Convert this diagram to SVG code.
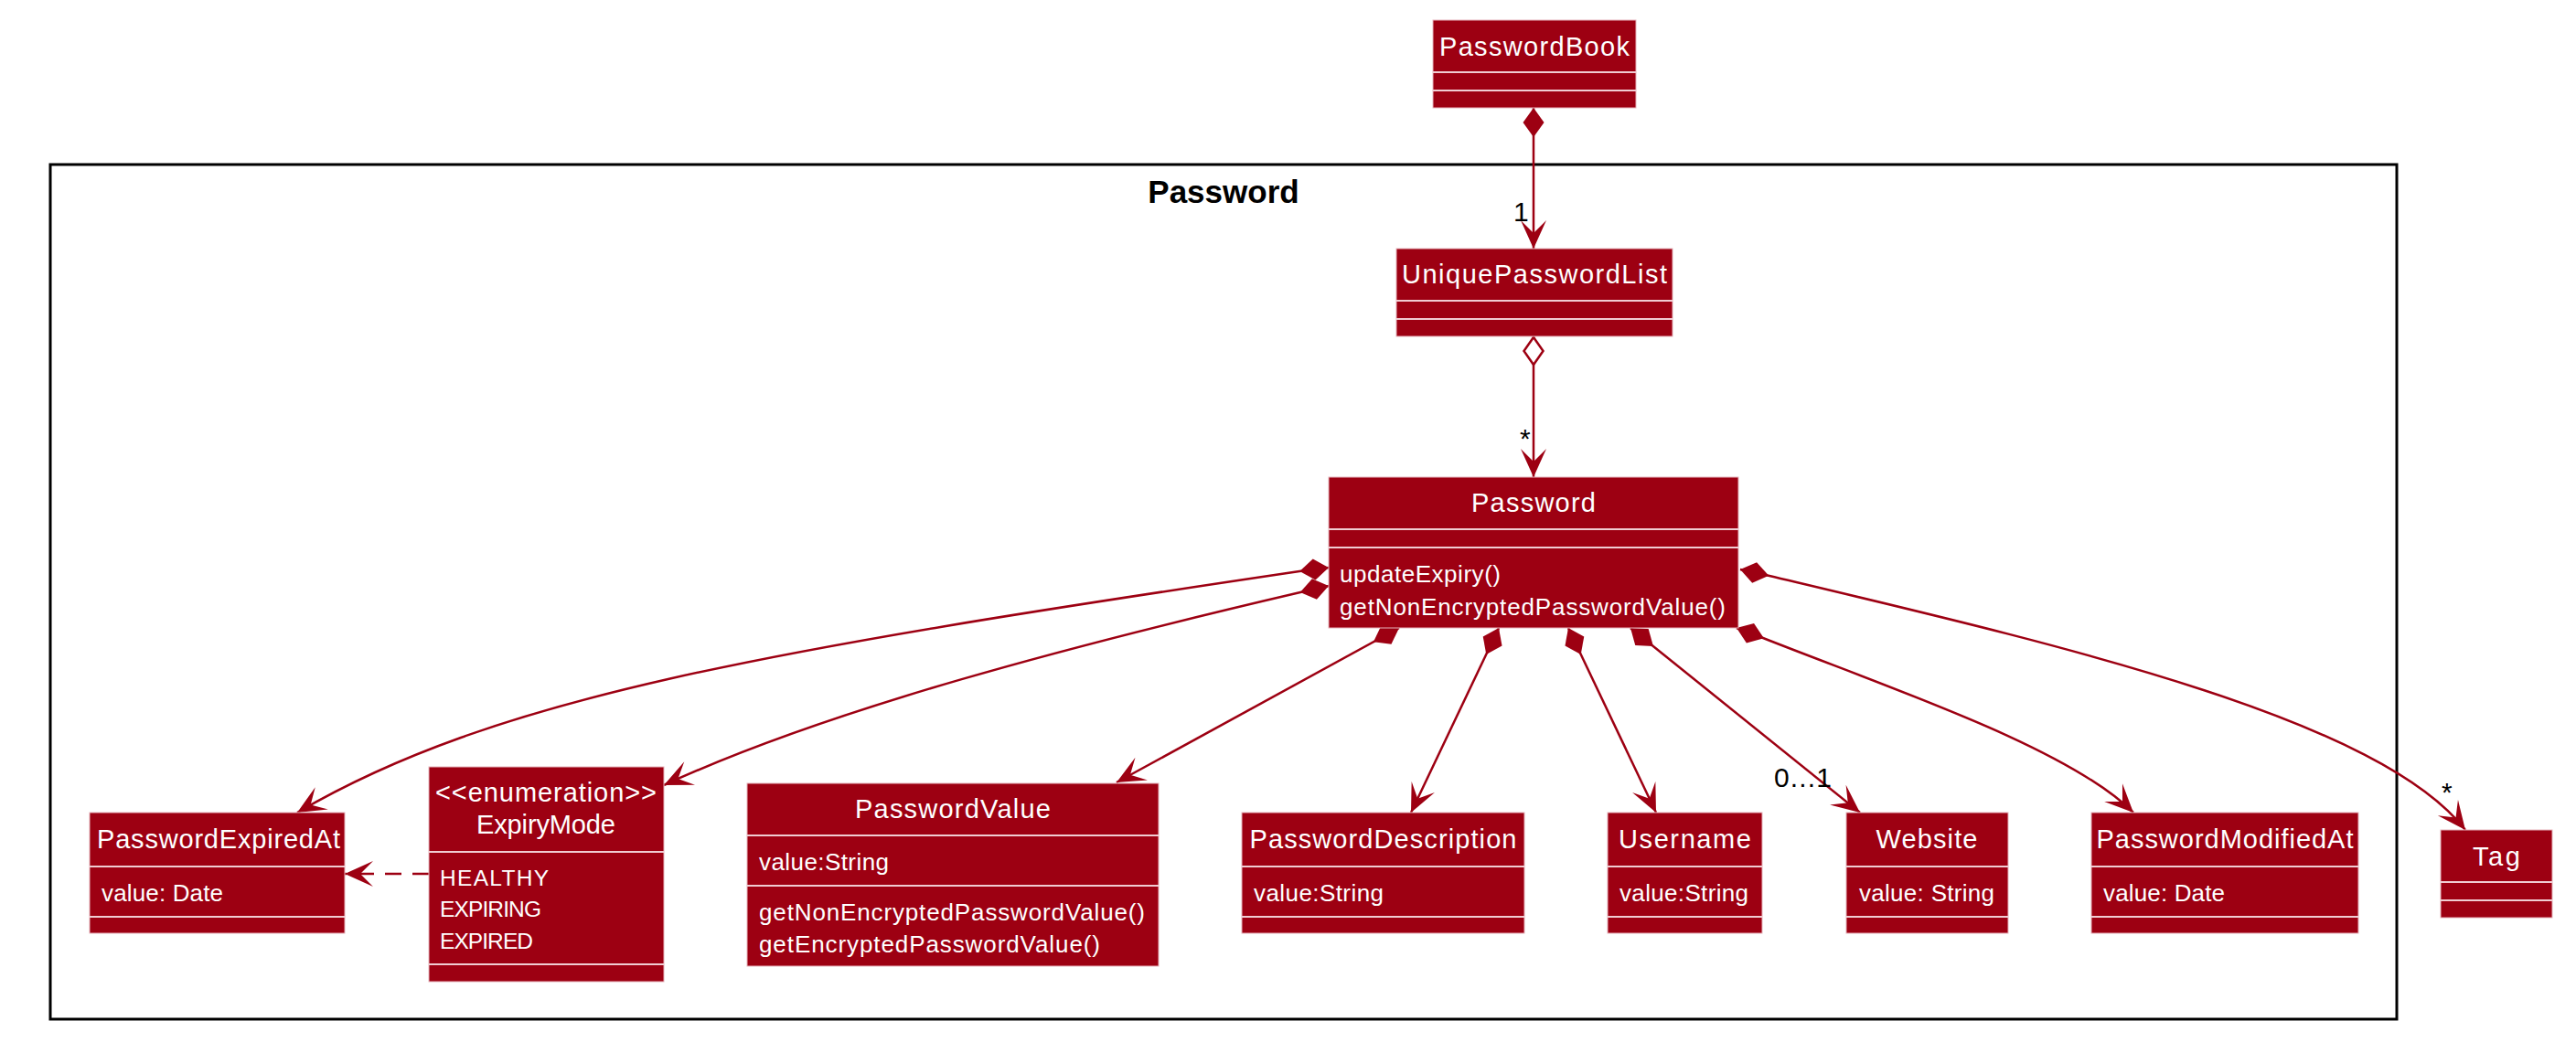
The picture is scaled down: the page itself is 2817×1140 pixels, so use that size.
<svg xmlns="http://www.w3.org/2000/svg" width="2817" height="1140" viewBox="0 0 2817 1140">
<style>
.box{fill:#9D0012;stroke:#E6B3BB;stroke-width:1}
.sep{stroke:#F0CCD2;stroke-width:2}
.nm{font-family:"Liberation Sans",Arial,sans-serif;font-size:29px;fill:#fff;text-anchor:middle}
.mb{font-family:"Liberation Sans",Arial,sans-serif;font-size:26px;fill:#fff}
.en{font-family:"Liberation Sans",Arial,sans-serif;font-size:24.5px;fill:#fff}
.lbl{font-family:"Liberation Sans",Arial,sans-serif;font-size:30px;fill:#000}
.title{font-family:"Liberation Sans",Arial,sans-serif;font-size:35px;font-weight:bold;fill:#000;text-anchor:middle}
.edge{fill:none;stroke:#9D0012;stroke-width:2.5}
</style>
<defs>
<marker id="arr" markerUnits="userSpaceOnUse" orient="auto" refX="0" refY="0" markerWidth="40" markerHeight="40" overflow="visible">
<path d="M0,0 L-31,-14 L-17,0 L-31,14 Z" fill="#9D0012" stroke="none"/>
</marker>
<marker id="dia" markerUnits="userSpaceOnUse" orient="auto" refX="0" refY="0" markerWidth="40" markerHeight="40" overflow="visible">
<path d="M0,0 L16,-11.5 L32,0 L16,11.5 Z" fill="#9D0012" stroke="none"/>
</marker>
<marker id="odia" markerUnits="userSpaceOnUse" orient="auto" refX="0" refY="0" markerWidth="40" markerHeight="40" overflow="visible">
<path d="M1,0 L16,-10.5 L31,0 L16,10.5 Z" fill="#fff" stroke="#9D0012" stroke-width="2.5"/>
</marker>
</defs>
<rect width="2817" height="1140" fill="#fff"/>

<g id="pkg-Password">
<rect x="55" y="180" width="2566" height="935" fill="none" stroke="#000" stroke-width="3"/>
<text class="title" x="1338" y="222">Password</text>
</g>

<g id="connectors">
<path class="edge" d="M1677,118 L1677,272" marker-start="url(#dia)" marker-end="url(#arr)"/>
<path class="edge" d="M1677,368 L1677,522" marker-start="url(#odia)" marker-end="url(#arr)"/>
<path class="edge" d="M1453,621 L1421,625 C828,713 541,763 325,889" marker-start="url(#dia)" marker-end="url(#arr)"/>
<path class="edge" d="M1453,641 L1422,648 C1178,705 908,775 726,859" marker-start="url(#dia)" marker-end="url(#arr)"/>
<path class="edge" d="M1530,687 L1221,856" marker-start="url(#dia)" marker-end="url(#arr)"/>
<path class="edge" d="M1639,687 L1543,889" marker-start="url(#dia)" marker-end="url(#arr)"/>
<path class="edge" d="M1715,687 L1811,889" marker-start="url(#dia)" marker-end="url(#arr)"/>
<path class="edge" d="M1783,687 L2034,889" marker-start="url(#dia)" marker-end="url(#arr)"/>
<path class="edge" d="M1899,687 L1928,698 C2067,753 2262,818 2333,889" marker-start="url(#dia)" marker-end="url(#arr)"/>
<path class="edge" d="M1903,623 L1935,630 C2250,705 2600,785 2696,908" marker-start="url(#dia)" marker-end="url(#arr)"/>
<path class="edge" d="M469,956 L377,956" stroke-dasharray="18,12" marker-end="url(#arr)"/>
<text class="lbl" x="1655" y="242">1</text>
<text class="lbl" x="1662" y="490">*</text>
<text class="lbl" x="1940" y="861" textLength="63">0...1</text>
<text class="lbl" x="2670" y="877">*</text>
</g>

<g id="PasswordBook">
<rect class="box" x="1567" y="22" width="222" height="96"/>
<line class="sep" x1="1567" y1="79" x2="1789" y2="79"/>
<line class="sep" x1="1567" y1="99" x2="1789" y2="99"/>
<text class="nm" x="1678" y="61" textLength="208">PasswordBook</text>
</g>

<g id="UniquePasswordList">
<rect class="box" x="1527" y="272" width="302" height="96"/>
<line class="sep" x1="1527" y1="329" x2="1829" y2="329"/>
<line class="sep" x1="1527" y1="349" x2="1829" y2="349"/>
<text class="nm" x="1678" y="310" textLength="290">UniquePasswordList</text>
</g>

<g id="Password">
<rect class="box" x="1453" y="522" width="448" height="165"/>
<line class="sep" x1="1453" y1="579" x2="1901" y2="579"/>
<line class="sep" x1="1453" y1="599" x2="1901" y2="599"/>
<text class="nm" x="1677" y="560" textLength="136">Password</text>
<text class="mb" x="1465" y="637" textLength="176">updateExpiry()</text>
<text class="mb" x="1465" y="673" textLength="422">getNonEncryptedPasswordValue()</text>
</g>

<g id="PasswordExpiredAt">
<rect class="box" x="98" y="889" width="279" height="132"/>
<line class="sep" x1="98" y1="948" x2="377" y2="948"/>
<line class="sep" x1="98" y1="1003" x2="377" y2="1003"/>
<text class="nm" x="239" y="928" textLength="266">PasswordExpiredAt</text>
<text class="mb" x="111" y="986" textLength="133">value: Date</text>
</g>

<g id="ExpiryMode">
<rect class="box" x="469" y="839" width="257" height="235"/>
<line class="sep" x1="469" y1="932" x2="726" y2="932"/>
<line class="sep" x1="469" y1="1055" x2="726" y2="1055"/>
<text class="nm" x="597" y="877" textLength="242">&lt;&lt;enumeration&gt;&gt;</text>
<text class="nm" x="597" y="912" textLength="152">ExpiryMode</text>
<text class="en" x="481" y="969" textLength="119">HEALTHY</text>
<text class="en" x="481" y="1003" textLength="111">EXPIRING</text>
<text class="en" x="481" y="1038" textLength="102">EXPIRED</text>
</g>

<g id="PasswordValue">
<rect class="box" x="817" y="857" width="450" height="200"/>
<line class="sep" x1="817" y1="914" x2="1267" y2="914"/>
<line class="sep" x1="817" y1="969" x2="1267" y2="969"/>
<text class="nm" x="1042" y="895" textLength="214">PasswordValue</text>
<text class="mb" x="830" y="952" textLength="142">value:String</text>
<text class="mb" x="830" y="1007" textLength="422">getNonEncryptedPasswordValue()</text>
<text class="mb" x="830" y="1042" textLength="373">getEncryptedPasswordValue()</text>
</g>

<g id="PasswordDescription">
<rect class="box" x="1358" y="889" width="309" height="132"/>
<line class="sep" x1="1358" y1="948" x2="1667" y2="948"/>
<line class="sep" x1="1358" y1="1003" x2="1667" y2="1003"/>
<text class="nm" x="1512.5" y="928" textLength="292">PasswordDescription</text>
<text class="mb" x="1371" y="986" textLength="142">value:String</text>
</g>

<g id="Username">
<rect class="box" x="1758" y="889" width="169" height="132"/>
<line class="sep" x1="1758" y1="948" x2="1927" y2="948"/>
<line class="sep" x1="1758" y1="1003" x2="1927" y2="1003"/>
<text class="nm" x="1842.5" y="928" textLength="145">Username</text>
<text class="mb" x="1771" y="986" textLength="141">value:String</text>
</g>

<g id="Website">
<rect class="box" x="2019" y="889" width="177" height="132"/>
<line class="sep" x1="2019" y1="948" x2="2196" y2="948"/>
<line class="sep" x1="2019" y1="1003" x2="2196" y2="1003"/>
<text class="nm" x="2107" y="928" textLength="111">Website</text>
<text class="mb" x="2033" y="986" textLength="148">value: String</text>
</g>

<g id="PasswordModifiedAt">
<rect class="box" x="2287" y="889" width="292" height="132"/>
<line class="sep" x1="2287" y1="948" x2="2579" y2="948"/>
<line class="sep" x1="2287" y1="1003" x2="2579" y2="1003"/>
<text class="nm" x="2433" y="928" textLength="281">PasswordModifiedAt</text>
<text class="mb" x="2300" y="986" textLength="133">value: Date</text>
</g>

<g id="Tag">
<rect class="box" x="2669" y="908" width="122" height="96"/>
<line class="sep" x1="2669" y1="965" x2="2791" y2="965"/>
<line class="sep" x1="2669" y1="985" x2="2791" y2="985"/>
<text class="nm" x="2730" y="947" textLength="52">Tag</text>
</g>
</svg>
